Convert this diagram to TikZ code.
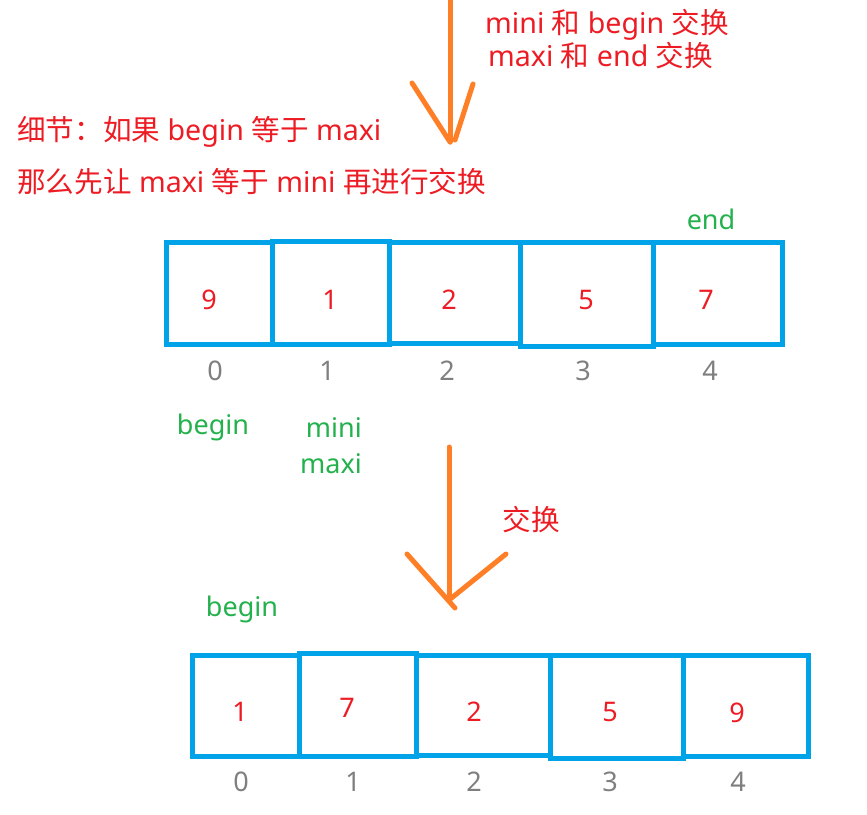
\documentclass[tikz,border=0pt]{standalone}
\usepackage{fontspec}
\setmainfont{Noto Sans}
\newfontfamily\cjk{Noto Sans CJK SC}
\definecolor{cblue}{RGB}{0,162,232}
\definecolor{cred}{RGB}{237,28,36}
\definecolor{cgreen}{RGB}{34,177,76}
\definecolor{corange}{RGB}{255,127,39}
\definecolor{cgray}{RGB}{127,127,127}
\begin{document}
\begin{tikzpicture}[x=1pt,y=-1pt,
  txt/.style={inner sep=0pt, font=\fontsize{27}{32}\selectfont},
  redtxt/.style={inner sep=0pt, font=\fontsize{28.6}{34}\selectfont, text=cred},
  greentxt/.style={txt, text=cgreen},
  idx/.style={txt, text=cgray},
  val/.style={txt, text=cred},
  cell/.style={draw=cblue, line width=5pt, inner sep=0pt, fill=none},
  arr/.style={draw=corange, line width=5pt, line cap=round}]
\useasboundingbox (0,0) rectangle (867,814);

% top labels
\node[redtxt, anchor=west] (l1) at (485,25) {mini {\cjk 和} begin {\cjk 交换}};
\node[redtxt, anchor=west] (l2) at (488,56) {maxi {\cjk 和} end {\cjk 交换}};
\node[redtxt, anchor=west] (l3) at (17,132) {{\cjk 细节：如果} begin {\cjk 等于} maxi};
\node[redtxt, anchor=west] (l4) at (17,182) {{\cjk 那么先让} maxi {\cjk 等于} mini {\cjk 再进行交换}};

% top arrow
\coordinate (a1s) at (450,0);
\coordinate (a1e) at (450,142);
\coordinate (a1l) at (412,83);
\coordinate (a1r) at (473,84);
\coordinate (a1t) at (455,140);
\draw[arr] (a1s) -- (a1e);
\draw[arr] (a1l) -- (a1e);
\draw[arr] (a1r) -- (a1t);

% top array
\node[greentxt] (endt) at (711,219) {end};
\node[cell, minimum width=106pt, minimum height=102pt] (t1) at (219.5,293.5) {};
\node[cell, minimum width=117pt, minimum height=103.5pt] (t2) at (331,292.75) {};
\node[cell, minimum width=130.5pt, minimum height=101pt] (t3) at (454.75,293) {};
\node[cell, minimum width=133.5pt, minimum height=104pt] (t4) at (586.75,294.5) {};
\node[cell, minimum width=128.5pt, minimum height=102pt] (t5) at (717.75,293.5) {};
\node[val] (tv1) at (209,300) {9};
\node[val] (tv2) at (330,300) {1};
\node[val] (tv3) at (449,300) {2};
\node[val] (tv4) at (586,300) {5};
\node[val] (tv5) at (706,300) {7};
\node[idx] (ti1) at (215,371) {0};
\node[idx] (ti2) at (327,371) {1};
\node[idx] (ti3) at (447,371) {2};
\node[idx] (ti4) at (583,371) {3};
\node[idx] (ti5) at (710,371) {4};
\node[greentxt] (tbeg) at (213,427) {begin};
\node[greentxt, anchor=east] (tmini) at (362,428) {mini};
\node[greentxt, anchor=east] (tmaxi) at (362,464) {maxi};

% bottom arrow
\coordinate (a2s) at (449,447);
\coordinate (a2e) at (449,600);
\coordinate (a2l) at (407,554);
\coordinate (a2lt) at (455,608);
\coordinate (a2r) at (506,554);
\draw[arr] (a2s) -- (a2e);
\draw[arr] (a2l) -- (a2lt);
\draw[arr] (a2r) -- (a2e);
\node[redtxt] (swap) at (531,520) {\cjk 交换};

% bottom array
\node[greentxt] (bbeg) at (242,609) {begin};
\node[cell, minimum width=107pt, minimum height=101pt] (b1) at (245.5,705.5) {};
\node[cell, minimum width=117pt, minimum height=103pt] (b2) at (357.5,704.5) {};
\node[cell, minimum width=134pt, minimum height=100pt] (b3) at (483,705) {};
\node[cell, minimum width=133pt, minimum height=103pt] (b4) at (616.5,706.5) {};
\node[cell, minimum width=125pt, minimum height=101pt] (b5) at (745.5,705.5) {};
\node[val] (bv1) at (240,712) {1};
\node[val] (bv2) at (347,708) {7};
\node[val] (bv3) at (474,712) {2};
\node[val] (bv4) at (610,712) {5};
\node[val] (bv5) at (737,713) {9};
\node[idx] (bi1) at (241,782) {0};
\node[idx] (bi2) at (353,782) {1};
\node[idx] (bi3) at (474,782) {2};
\node[idx] (bi4) at (610,782) {3};
\node[idx] (bi5) at (738,782) {4};
\end{tikzpicture}
\end{document}
